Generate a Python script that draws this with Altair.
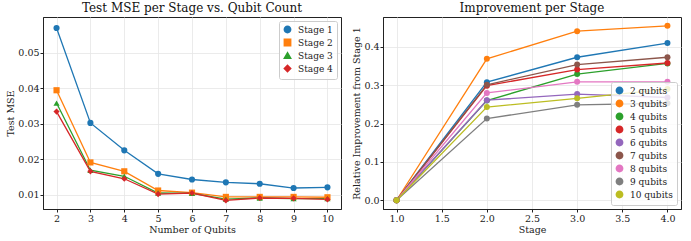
import altair as alt
import pandas as pd

# ---------------- data ----------------
qubits = [2, 3, 4, 5, 6, 7, 8, 9, 10]
mse_stage1 = [0.0569, 0.0302, 0.0225, 0.0159, 0.0143, 0.0135, 0.0131, 0.0119, 0.0121]
mse_stage2 = [0.0394, 0.0191, 0.0166, 0.0112, 0.0106, 0.0094, 0.0094, 0.0094, 0.0093]
mse_stage3 = [0.0358, 0.0169, 0.0152, 0.0105, 0.0104, 0.0088, 0.0091, 0.0089, 0.0089]
mse_stage4 = [0.0334, 0.0166, 0.0145, 0.0102, 0.0105, 0.0084, 0.0091, 0.0090, 0.0087]
stage_labels = ["Stage 1", "Stage 2", "Stage 3", "Stage 4"]

stages = [1.0, 2.0, 3.0, 4.0]
imp_2q = [0.0, 0.308, 0.373, 0.410]
imp_3q = [0.0, 0.369, 0.441, 0.455]
imp_4q = [0.0, 0.260, 0.329, 0.357]
imp_5q = [0.0, 0.299, 0.341, 0.358]
imp_6q = [0.0, 0.261, 0.277, 0.268]
imp_7q = [0.0, 0.301, 0.354, 0.373]
imp_8q = [0.0, 0.280, 0.309, 0.309]
imp_9q = [0.0, 0.213, 0.249, 0.253]
imp_10q = [0.0, 0.243, 0.266, 0.290]
qubit_labels = ["2 qubits", "3 qubits", "4 qubits", "5 qubits", "6 qubits",
                "7 qubits", "8 qubits", "9 qubits", "10 qubits"]

tab10 = ["#1f77b4", "#ff7f0e", "#2ca02c", "#d62728", "#9467bd",
         "#8c564b", "#e377c2", "#7f7f7f", "#bcbd22"]

FONT = "DejaVu Serif"

# ---------------- tables ----------------
rows = []
for lab, vals in zip(stage_labels, [mse_stage1, mse_stage2, mse_stage3, mse_stage4]):
    for q, v in zip(qubits, vals):
        rows.append({"Qubits": q, "MSE": v, "Series": lab})
df_left = pd.DataFrame(rows)

rows = []
for lab, vals in zip(qubit_labels, [imp_2q, imp_3q, imp_4q, imp_5q, imp_6q,
                                    imp_7q, imp_8q, imp_9q, imp_10q]):
    for s, v in zip(stages, vals):
        rows.append({"Stage": s, "Improvement": v, "Series": lab})
df_right = pd.DataFrame(rows)

W, H = 298, 192

leg_common = dict(title=None, padding=4, strokeColor="#cccccc",
                  fillColor="rgba(255,255,255,0.8)", cornerRadius=2,
                  labelFont=FONT, labelFontSize=9, labelColor="#222",
                  symbolSize=40, rowPadding=0, labelOffset=6)

xl = alt.X("Qubits:Q", title="Number of Qubits",
           scale=alt.Scale(domain=[1.6, 10.4], nice=False, zero=False),
           axis=alt.Axis(values=qubits, format="d"))
yl = alt.Y("MSE:Q", title="Test MSE",
           scale=alt.Scale(domain=[0.0060, 0.0600], nice=False, zero=False),
           axis=alt.Axis(values=[0.01, 0.02, 0.03, 0.04, 0.05], format=".2f"))
leg_l = alt.Legend(orient="top-right", offset=4, **leg_common)
col_l = alt.Color("Series:N", sort=stage_labels,
                  scale=alt.Scale(domain=stage_labels, range=tab10[:4]), legend=leg_l)
shp_l = alt.Shape("Series:N", sort=stage_labels,
                  scale=alt.Scale(domain=stage_labels,
                                  range=["circle", "square", "triangle-up", "diamond"]),
                  legend=leg_l)

left_lines = alt.Chart(df_left).mark_line(strokeWidth=1.3).encode(
    x=xl, y=yl, color=col_l, detail="Series:N")
left_pts = alt.Chart(df_left).mark_point(filled=True, size=38, opacity=1).encode(
    x=xl, y=yl, color=col_l, shape=shp_l)
left = alt.layer(left_lines, left_pts).properties(
    width=W, height=H, title="Test MSE per Stage vs. Qubit Count")

xr = alt.X("Stage:Q", title="Stage",
           scale=alt.Scale(domain=[0.85, 4.15], nice=False, zero=False),
           axis=alt.Axis(values=[1.0, 1.5, 2.0, 2.5, 3.0, 3.5, 4.0], format=".1f"))
yr = alt.Y("Improvement:Q", title="Relative Improvement from Stage 1",
           scale=alt.Scale(domain=[-0.0228, 0.478], nice=False, zero=False),
           axis=alt.Axis(values=[0.0, 0.1, 0.2, 0.3, 0.4], format=".1f"))
leg_r = alt.Legend(orient="bottom-right", offset=4,
                   symbolType="circle", **leg_common)
col_r = alt.Color("Series:N", sort=qubit_labels,
                  scale=alt.Scale(domain=qubit_labels, range=tab10), legend=leg_r)

right_lines = alt.Chart(df_right).mark_line(strokeWidth=1.3).encode(
    x=xr, y=yr, color=col_r, detail="Series:N")
right_pts = alt.Chart(df_right).mark_point(filled=True, size=36, opacity=1, shape="circle").encode(
    x=xr, y=yr, color=col_r)
right = alt.layer(right_lines, right_pts).properties(
    width=W, height=H, title="Improvement per Stage")

chart = alt.hconcat(left, right, spacing=42, bounds="flush").resolve_scale(
    color="independent", shape="independent"
).resolve_legend(
    color="independent", shape="independent"
).properties(
    padding={"left": 5, "top": 1, "right": 5, "bottom": 1}
).configure(
    font=FONT
).configure_view(
    stroke="#222222", strokeWidth=1
).configure_axis(
    labelFont=FONT, titleFont=FONT, labelFontSize=9.5, titleFontSize=9.5,
    labelColor="#222", titleColor="#222", titleFontWeight="normal",
    gridColor="#e6e6e6", gridWidth=0.8, tickColor="#222", tickSize=3,
    domainColor="#222", labelPadding=1, titlePadding=2
).configure_title(
    font=FONT, fontSize=12, fontWeight="normal", color="#111", offset=2
)

chart.save("out.html", embed_options={"renderer": "svg", "actions": False})
